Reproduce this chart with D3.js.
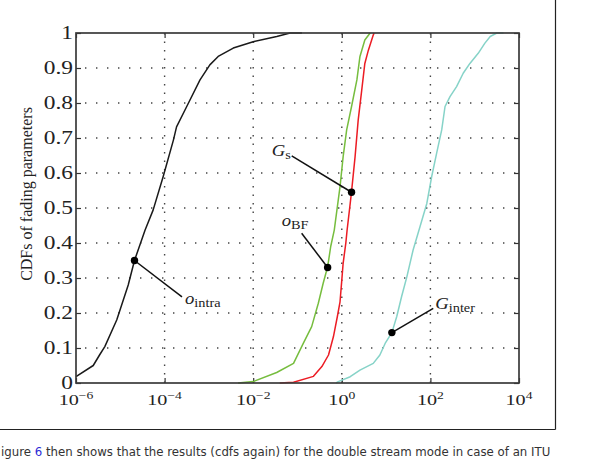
<!DOCTYPE html>
<html>
<head>
<meta charset="utf-8">
<script src="https://cdn.jsdelivr.net/npm/d3@7"></script>
<style>
  html, body { margin: 0; padding: 0; background: #fff; overflow: hidden; }
  svg { display: block; }
  .serif { font-family: "Liberation Serif", "Times New Roman", serif; fill: #222; }
</style>
</head>
<body>
<svg id="chart" width="589" height="460"></svg>
<script>
const X_TICKS = [1e-6, 1e-4, 1e-2, 1, 1e2, 1e4];
const X_TICK_EXPONENTS = ["\u22126", "\u22124", "\u22122", "0", "2", "4"];
const X_GRID = [1e-4, 1e-2, 1, 1e2];
const Y_TICKS = [0, 0.1, 0.2, 0.3, 0.4, 0.5, 0.6, 0.7, 0.8, 0.9, 1];
const Y_TICK_LABELS = ["0", "0.1", "0.2", "0.3", "0.4", "0.5", "0.6", "0.7", "0.8", "0.9", "1"];

// o_intra (black)
const INTRA_X = [1e-6, 2.45e-6, 3.4e-6, 4.47e-6, 8.3e-6, 1.51e-5, 2.09e-5, 3.63e-5, 5.5e-5, 9.3e-5,
  1.58e-4, 1.86e-4, 3.16e-4, 6.3e-4, 1.05e-3, 1.62e-3, 3.55e-3, 1e-2, 3.4e-2, 6.8e-2, 0.126];
const INTRA_Y = [0.018, 0.05, 0.08, 0.104, 0.18, 0.28, 0.35, 0.437, 0.494, 0.59,
  0.694, 0.732, 0.79, 0.866, 0.909, 0.933, 0.957, 0.975, 0.99, 1.0, 1.0];

// o_BF (green)
const BF_X = [4.57e-3, 0.01, 0.0339, 0.0813, 0.135, 0.209, 0.295, 0.38, 0.479, 0.562, 0.676,
  0.912, 1.072, 1.288, 1.66, 2.19, 2.57, 3.31, 4.36];
const BF_Y = [0, 0.004, 0.03, 0.056, 0.113, 0.161, 0.228, 0.285, 0.332, 0.39, 0.437,
  0.561, 0.647, 0.723, 0.79, 0.866, 0.933, 0.98, 1.0];

// G_s (red)
const GS_X = [0.0398, 0.0813, 0.229, 0.355, 0.501, 0.646, 0.794, 0.912, 1.0, 1.072, 1.23, 1.318,
  1.549, 1.66, 1.995, 2.344, 2.818, 3.311, 3.981, 5.129, 5.37];
const GS_Y = [0, 0.002, 0.019, 0.047, 0.08, 0.132, 0.19, 0.232, 0.294, 0.342, 0.399, 0.437,
  0.513, 0.547, 0.647, 0.751, 0.837, 0.913, 0.951, 0.994, 1.0];

// G_inter (cyan)
const GINTER_X = [0.741, 0.832, 1.549, 2.57, 5.13, 7.24, 9.5, 13.5, 17.4, 22.4, 29.5, 40.7, 58.4,
  83, 107, 138, 180, 214, 277, 390, 550, 780, 1200, 1700, 2240, 3160, 4470];
const GINTER_Y = [0, 0.004, 0.018, 0.037, 0.056, 0.08, 0.113, 0.144, 0.19, 0.247, 0.304, 0.38, 0.447,
  0.513, 0.59, 0.656, 0.723, 0.79, 0.818, 0.847, 0.885, 0.913, 0.942, 0.971, 0.99, 1.0, 1.0];

// annotations: marker point and leader end, in data units
const LABEL_NAMES = ["o_intra", "o_BF", "G_s", "G_inter"];
const LABEL_MAIN = ["o", "o", "G", "G"];
const LABEL_SUB = ["intra", "BF", "s", "inter"];
const MARK_X = [2.09e-5, 0.479, 1.66, 13.5];
const MARK_Y = [0.35, 0.33, 0.545, 0.144];
const LEAD_X = [2.47e-4, 0.124, 0.074, 116];
const LEAD_Y = [0.246, 0.428, 0.649, 0.213];

const CAPTION_TEXT = "igure 6 then shows that the results (cdfs again) for the double stream mode in case of an ITU";
const CAPTION_LINK_AT = 6; // the "6" is a link, drawn in blue

const TICK_STRETCH = 1.3;
const LABEL_STRETCH = 1.1;

function zip(xs, ys) {
  return xs.map((v, i) => [v, ys[i]]);
}

function drawChart() {
  const svg = d3.select("#chart");
  const plot = { left: 76, right: 519, top: 33, bottom: 383 };

  const x = d3.scaleLog().domain([1e-6, 1e4]).range([plot.left, plot.right]);
  const y = d3.scaleLinear().domain([0, 1]).range([plot.bottom, plot.top]);

  // figure frame
  svg.append("line")
    .attr("x1", 555.5).attr("x2", 555.5).attr("y1", 0).attr("y2", 429.5)
    .attr("stroke", "#222").attr("stroke-width", 1.2);
  svg.append("line")
    .attr("x1", 0).attr("x2", 555.5).attr("y1", 429.5).attr("y2", 429.5)
    .attr("stroke", "#222").attr("stroke-width", 1.2);

  // grid
  const grid = svg.append("g").attr("stroke", "#444").attr("stroke-width", 1.4);
  grid.selectAll("line.h")
    .data(Y_TICKS.slice(1, -1))
    .join("line")
    .attr("class", "h")
    .attr("x1", plot.left + 9).attr("x2", plot.right)
    .attr("y1", (d) => y(d)).attr("y2", (d) => y(d))
    .attr("stroke-dasharray", "1.4 9.6");
  grid.selectAll("line.v")
    .data(X_GRID)
    .join("line")
    .attr("class", "v")
    .attr("x1", (d) => x(d)).attr("x2", (d) => x(d))
    .attr("y1", plot.bottom).attr("y2", plot.top)
    .attr("stroke-dasharray", "1.4 7.1");

  // axes with inward ticks
  const axisStyle = (g) => {
    g.select(".domain").remove();
    g.selectAll(".tick line").attr("stroke", "#333").attr("stroke-width", 1.2);
    g.selectAll(".tick text").remove();
  };
  svg.append("g").attr("transform", `translate(0,${plot.bottom})`)
    .call(d3.axisTop(x).tickValues(X_TICKS).tickSize(5)).call(axisStyle);
  svg.append("g").attr("transform", `translate(0,${plot.top})`)
    .call(d3.axisBottom(x).tickValues(X_TICKS).tickSize(5)).call(axisStyle);
  svg.append("g").attr("transform", `translate(${plot.left},0)`)
    .call(d3.axisRight(y).tickValues(Y_TICKS).tickSize(5)).call(axisStyle);
  svg.append("g").attr("transform", `translate(${plot.right},0)`)
    .call(d3.axisLeft(y).tickValues(Y_TICKS).tickSize(5)).call(axisStyle);

  // curves
  const line = d3.line().x((d) => x(d[0])).y((d) => y(d[1]));
  const series = [
    { data: zip(GINTER_X, GINTER_Y), color: "#86d3c8" },
    { data: zip(BF_X, BF_Y), color: "#76bd3e" },
    { data: zip(GS_X, GS_Y), color: "#ec1c24" },
    { data: zip(INTRA_X, INTRA_Y), color: "#1a1a1a" },
  ];
  svg.append("g").attr("fill", "none")
    .selectAll("path")
    .data(series)
    .join("path")
    .attr("d", (s) => line(s.data))
    .attr("stroke", (s) => s.color)
    .attr("stroke-width", 1.5)
    .attr("stroke-linejoin", "round");

  // plot box
  svg.append("rect")
    .attr("x", plot.left).attr("y", plot.top)
    .attr("width", plot.right - plot.left).attr("height", plot.bottom - plot.top)
    .attr("fill", "none").attr("stroke", "#3a3a3a").attr("stroke-width", 1.7);

  // y tick labels
  Y_TICKS.forEach((v, i) => {
    svg.append("g")
      .attr("transform", `translate(${plot.left - 3},${y(v)}) scale(${TICK_STRETCH},1)`)
      .append("text")
      .attr("class", "serif")
      .attr("text-anchor", "end")
      .attr("dy", "0.33em")
      .attr("font-size", 18)
      .text(Y_TICK_LABELS[i]);
  });

  // x tick labels
  X_TICKS.forEach((v, i) => {
    const t = svg.append("g")
      .attr("transform", `translate(${x(v)},405) scale(${TICK_STRETCH},1)`)
      .append("text")
      .attr("class", "serif")
      .attr("text-anchor", "middle")
      .attr("font-size", 15.5);
    t.append("tspan").text("10");
    t.append("tspan").attr("font-size", 10.5).attr("dy", -6.5).text(X_TICK_EXPONENTS[i]);
  });

  // y title
  svg.append("text")
    .attr("class", "serif")
    .attr("transform", `translate(32,194) rotate(-90)`)
    .attr("text-anchor", "middle")
    .attr("font-size", 16)
    .text("CDFs of fading parameters");

  // annotations
  const textOffset = [[3, 7], [-20, -7], [-20, 0], [2, 1]];
  LABEL_NAMES.forEach((name, i) => {
    const mx = x(MARK_X[i]);
    const my = y(MARK_Y[i]);
    const lx = x(LEAD_X[i]);
    const ly = y(LEAD_Y[i]);
    svg.append("line")
      .attr("x1", mx).attr("y1", my).attr("x2", lx).attr("y2", ly)
      .attr("stroke", "#111").attr("stroke-width", 1.5);
    svg.append("circle")
      .attr("cx", mx).attr("cy", my).attr("r", 3.7).attr("fill", "#000");
    const t = svg.append("g")
      .attr("transform", `translate(${lx + textOffset[i][0]},${ly + textOffset[i][1]}) scale(${LABEL_STRETCH},1)`)
      .append("text")
      .attr("class", "serif")
      .attr("data-name", name)
      .attr("font-size", 17);
    t.append("tspan").attr("font-style", "italic").text(LABEL_MAIN[i]);
    t.append("tspan").attr("font-size", 13).attr("dy", 3).text(LABEL_SUB[i]);
  });

  // caption text below the figure; the measured length runs a bit long,
  // so the target is set past the wanted 520px
  const caption = svg.append("text")
    .attr("x", 1)
    .attr("y", 456)
    .attr("font-family", "'DejaVu Sans', sans-serif")
    .attr("font-size", 13)
    .attr("fill", "#333");
  caption.append("tspan").text(CAPTION_TEXT.slice(0, CAPTION_LINK_AT));
  caption.append("tspan").attr("fill", "#2b2bd6").text(CAPTION_TEXT.slice(CAPTION_LINK_AT, CAPTION_LINK_AT + 1));
  caption.append("tspan").text(CAPTION_TEXT.slice(CAPTION_LINK_AT + 1));
  let size = 13;
  for (let k = 0; k < 4; k += 1) {
    const tspans = caption.selectAll("tspan").nodes();
    const width = d3.sum(tspans, (n) => n.getComputedTextLength());
    size = size * 549 / width;
    caption.attr("font-size", size);
  }
}

drawChart();
</script>
</body>
</html>
